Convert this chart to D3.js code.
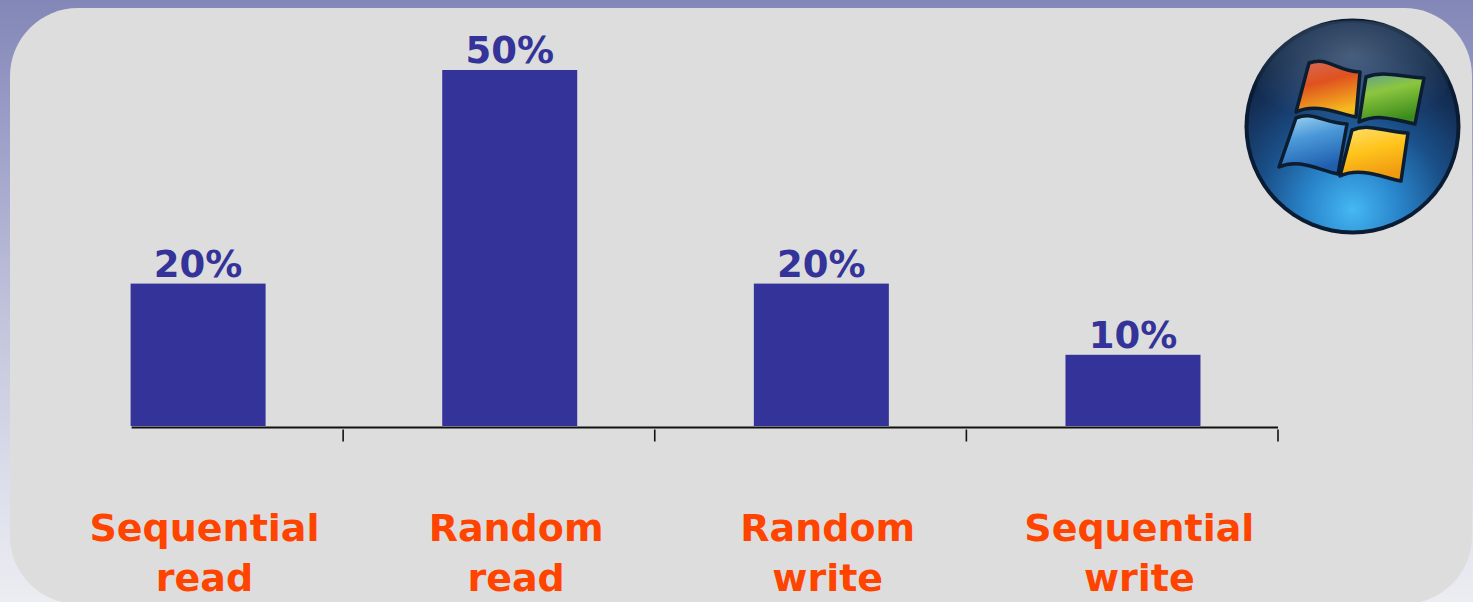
<!DOCTYPE html>
<html>
<head>
<meta charset="utf-8">
<script src="https://cdn.jsdelivr.net/npm/d3@7"></script>
<style>
  html, body { margin: 0; padding: 0; background: #eceef3; }
  svg { display: block; }
</style>
</head>
<body>
<script>
// Share of disk I/O by access pattern
const categories = ["Sequential read", "Random read", "Random write", "Sequential write"];
const categoryLines = [["Sequential", "read"], ["Random", "read"], ["Random", "write"], ["Sequential", "write"]];
const shares = [20, 50, 20, 10];
const shareLabels = ["20%", "50%", "20%", "10%"];

const W = 1473, H = 602;
const svg = d3.select("body").append("svg").attr("width", W).attr("height", H);
const defs = svg.append("defs");

// page backdrop
const bg = defs.append("linearGradient").attr("id", "bg").attr("x1", 0).attr("y1", 0).attr("x2", 0).attr("y2", 1);
[[0, "#8387b7"], [0.2, "#9a9dc6"], [0.5, "#bfc1da"], [0.78, "#dadcea"], [1, "#ecedf2"]]
  .forEach(([o, c]) => bg.append("stop").attr("offset", o).attr("stop-color", c));
svg.append("rect").attr("width", W).attr("height", H).attr("fill", "url(#bg)");

// rounded content panel
svg.append("rect")
  .attr("x", 10).attr("y", 8).attr("width", 1462).attr("height", 596)
  .attr("rx", 68).attr("ry", 68)
  .attr("fill", "#dddddd");

// scales
const x = d3.scaleBand().domain(categories).range([31.5, 1278]).padding(0);
const step = x.step();
const barW = 135;
const barLeft = c => x(c) + step * 0.318;
const y = d3.scaleLinear().domain([0, 50]).range([426, 70]);

const g = svg.append("g");

// bars
g.selectAll("rect.bar").data(categories).join("rect")
  .attr("class", "bar")
  .attr("x", c => barLeft(c))
  .attr("y", (c, i) => y(shares[i]))
  .attr("width", barW)
  .attr("height", (c, i) => y(0) - y(shares[i]))
  .attr("fill", "#333399");

// value labels
g.selectAll("text.val").data(categories).join("text")
  .attr("class", "val")
  .attr("x", c => barLeft(c) + barW / 2)
  .attr("y", (c, i) => y(shares[i]) - 7)
  .attr("text-anchor", "middle")
  .attr("font-family", "'DejaVu Sans', Verdana, sans-serif")
  .attr("font-weight", "bold")
  .attr("font-size", 37)
  .attr("fill", "#333399")
  .text((c, i) => shareLabels[i]);

// axis line and ticks at band boundaries
const axisY = y(0) + 1.5;
g.append("line")
  .attr("x1", barLeft(categories[0]) + 1).attr("x2", x.range()[1])
  .attr("y1", axisY).attr("y2", axisY)
  .attr("stroke", "#111").attr("stroke-width", 2);
g.selectAll("line.tick").data(categories).join("line")
  .attr("class", "tick")
  .attr("x1", c => x(c) + step).attr("x2", c => x(c) + step)
  .attr("y1", axisY + 2).attr("y2", axisY + 14)
  .attr("stroke", "#111").attr("stroke-width", 1.6);

// category labels
const lab = g.selectAll("text.cat").data(categories).join("text")
  .attr("class", "cat")
  .attr("text-anchor", "middle")
  .attr("font-family", "'DejaVu Sans', Verdana, sans-serif")
  .attr("font-weight", "bold")
  .attr("font-size", 38)
  .attr("fill", "#ff4400");
lab.selectAll("tspan").data((c, i) => categoryLines[i].map(t => ({ t, c }))).join("tspan")
  .attr("x", d => x(d.c) + step * 0.555)
  .attr("y", (d, j) => 541 + j * 50)
  .text(d => d.t);

// operating-system emblem
const cx = 1352.5, cy = 126.5, r = 107;
const orb = defs.append("radialGradient").attr("id", "orb").attr("cx", 0.5).attr("cy", 0.9).attr("r", 0.78);
[[0, "#45b8f2"], [0.28, "#2a86cc"], [0.58, "#1a4f88"], [0.85, "#15315a"], [1, "#0f2747"]]
  .forEach(([o, c]) => orb.append("stop").attr("offset", o).attr("stop-color", c));
const gloss = defs.append("radialGradient").attr("id", "gloss").attr("cx", 0.5).attr("cy", 0.3).attr("r", 0.6);
gloss.append("stop").attr("offset", 0).attr("stop-color", "#c8d8ec").attr("stop-opacity", 0.3);
gloss.append("stop").attr("offset", 0.6).attr("stop-color", "#c8d8ec").attr("stop-opacity", 0.12);
gloss.append("stop").attr("offset", 1).attr("stop-color", "#c8d8ec").attr("stop-opacity", 0);

const emb = svg.append("g");
emb.append("circle").attr("cx", cx).attr("cy", cy).attr("r", r + 1).attr("fill", "#0a1c33");
emb.append("circle").attr("cx", cx).attr("cy", cy).attr("r", r - 3).attr("fill", "url(#orb)");
emb.append("ellipse").attr("cx", cx).attr("cy", cy - 48).attr("rx", 96).attr("ry", 58).attr("fill", "url(#gloss)");

function pane(id, stops, pts) {
  const gr = defs.append("linearGradient").attr("id", id).attr("x1", 0).attr("y1", 0).attr("x2", 0.3).attr("y2", 1);
  stops.forEach(([o, c]) => gr.append("stop").attr("offset", o).attr("stop-color", c));
  const [a, b, c2, d] = pts;
  const p = d3.path();
  p.moveTo(a[0], a[1]);
  p.bezierCurveTo(a[0] + 18, a[1] - 7, b[0] - 24, b[1] - 1, b[0], b[1]);
  p.lineTo(c2[0], c2[1]);
  p.bezierCurveTo(c2[0] - 20, c2[1] - 4, d[0] + 20, d[1] - 9, d[0], d[1]);
  p.closePath();
  emb.append("path").attr("d", p.toString()).attr("fill", `url(#${id})`)
    .attr("stroke", "#0d1d30").attr("stroke-width", 3.5).attr("stroke-linejoin", "round");
}
pane("pRed", [[0, "#d66a5a"], [0.45, "#e0521e"], [1, "#f5b81e"]],
  [[1309, 63], [1360, 72], [1356, 117], [1296, 112]]);
pane("pGreen", [[0, "#5e9e94"], [0.4, "#8cc63f"], [1, "#3c8c1c"]],
  [[1366, 77], [1424, 78], [1415, 124], [1359, 122]]);
pane("pBlue", [[0, "#a6d8f4"], [0.45, "#4a98d8"], [1, "#1f5fae"]],
  [[1296, 118], [1347, 124], [1338, 174], [1279, 167]]);
pane("pYellow", [[0, "#ffe070"], [0.5, "#ffc41c"], [1, "#f09a10"]],
  [[1352, 130], [1408, 133], [1401, 181], [1340, 176]]);
</script>
</body>
</html>
